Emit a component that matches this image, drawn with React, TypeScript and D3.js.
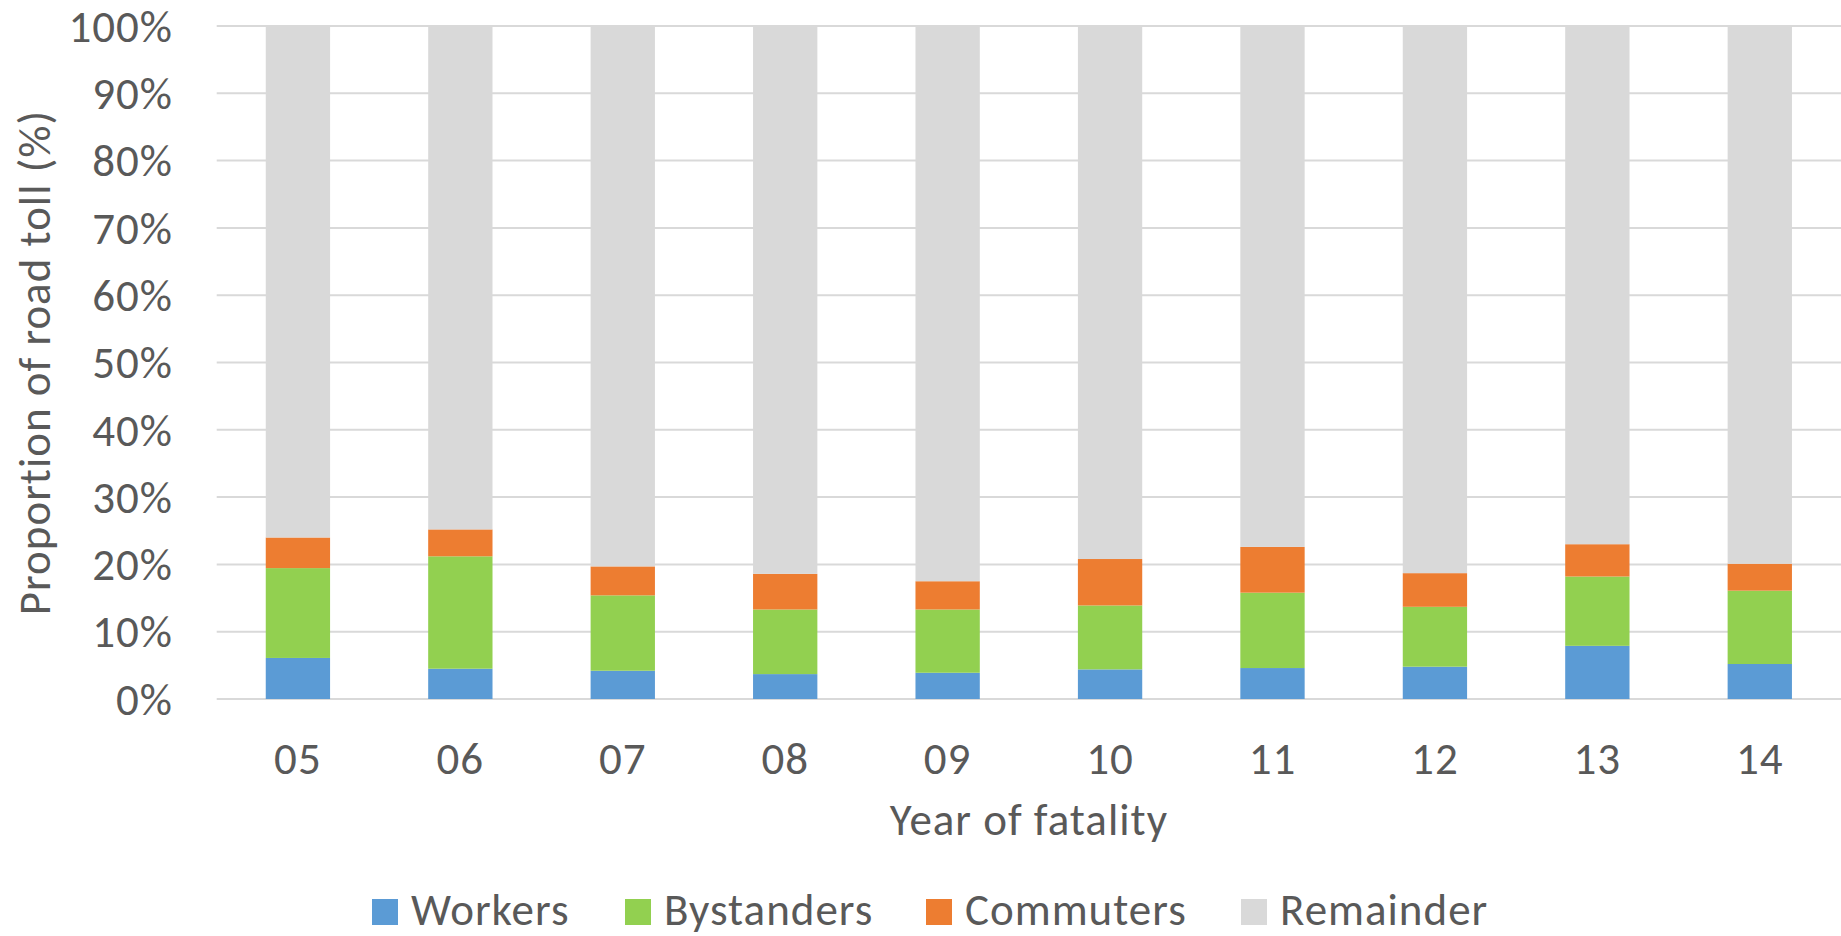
import React from "react";
import * as d3 from "d3";

const years = ["05", "06", "07", "08", "09", "10", "11", "12", "13", "14"];
const workers = [6.1, 4.5, 4.2, 3.7, 3.9, 4.4, 4.6, 4.8, 7.9, 5.2];
const bystanders = [13.35, 16.7, 11.2, 9.6, 9.4, 9.5, 11.2, 8.9, 10.3, 10.9];
const commuters = [4.55, 4.0, 4.3, 5.3, 4.2, 6.9, 6.8, 5.0, 4.8, 4.0];
const remainder = years.map((_, i) => 100 - workers[i] - bystanders[i] - commuters[i]);
const yTicks = [0, 10, 20, 30, 40, 50, 60, 70, 80, 90, 100];
const seriesNames = ["Workers", "Bystanders", "Commuters", "Remainder"];
const seriesColors = ["#5B9BD5", "#92D050", "#ED7D31", "#D9D9D9"];

const W = 1841;
const H = 936;
const FONT = "Carlito, Lato, 'Open Sans', sans-serif";
const TEXT = "#595959";
const FS = 45;
const LS = 1;
const margin = { left: 216.7, right: 0, top: 26, bottom: 237 };
const legendX = [372, 625, 926, 1241];

export default function App() {
  const x = d3
    .scaleBand<string>()
    .domain(years)
    .range([margin.left, W - margin.right])
    .paddingInner(0.604)
    .paddingOuter(0.302);
  const y = d3.scaleLinear().domain([0, 100]).range([H - margin.bottom, margin.top]);

  const rows = years.map((yr, i) => ({
    year: yr,
    Workers: workers[i],
    Bystanders: bystanders[i],
    Commuters: commuters[i],
    Remainder: remainder[i],
  }));
  const stacked = d3.stack<any>().keys(seriesNames)(rows);

  return (
    <svg
      width={W}
      height={H}
      style={{ position: "absolute", left: 0, top: 0, background: "#fff" }}
      fontFamily={FONT}
      letterSpacing={LS}
    >
      {yTicks.map((t) => (
        <line
          key={"g" + t}
          x1={margin.left}
          x2={W - margin.right}
          y1={y(t)}
          y2={y(t)}
          stroke="#D9D9D9"
          strokeWidth={2}
        />
      ))}
      {stacked.map((s, si) => (
        <g key={s.key} fill={seriesColors[si]}>
          {s.map((d, i) => (
            <rect
              key={i}
              x={x(years[i])}
              width={x.bandwidth()}
              y={y(d[1])}
              height={y(d[0]) - y(d[1])}
            />
          ))}
        </g>
      ))}
      {yTicks.map((t) => (
        <text
          key={"t" + t}
          x={173}
          y={y(t)}
          dy="0.35em"
          textAnchor="end"
          fontSize={FS}
          fill={TEXT}
        >
          {t + "%"}
        </text>
      ))}
      {years.map((yr) => (
        <text
          key={"x" + yr}
          x={(x(yr) as number) + x.bandwidth() / 2}
          y={774}
          textAnchor="middle"
          fontSize={FS}
          fill={TEXT}
        >
          {yr}
        </text>
      ))}
      <text
        x={(margin.left + W - margin.right) / 2}
        y={835}
        textAnchor="middle"
        fontSize={FS}
        fill={TEXT}
      >
        Year of fatality
      </text>
      <text
        transform={`translate(50, ${(y(0) + y(100)) / 2}) rotate(-90)`}
        textAnchor="middle"
        fontSize={FS}
        fill={TEXT}
      >
        Proportion of road toll (%)
      </text>
      {seriesNames.map((n, i) => (
        <g key={"l" + n}>
          <rect x={legendX[i]} y={899} width={26} height={26} fill={seriesColors[i]} />
          <text x={legendX[i] + 39} y={925} fontSize={FS} fill={TEXT}>
            {n}
          </text>
        </g>
      ))}
    </svg>
  );
}
